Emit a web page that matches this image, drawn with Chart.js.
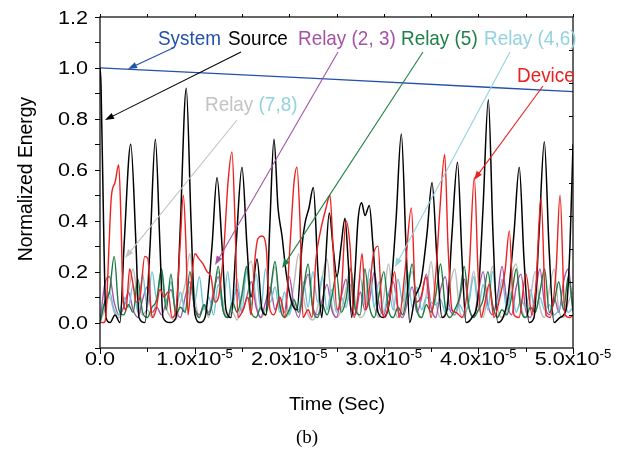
<!DOCTYPE html>
<html>
<head>
<meta charset="utf-8">
<script src="https://cdn.jsdelivr.net/npm/chart.js@4.4.1/dist/chart.umd.min.js"></script>
<style>
  html, body { margin: 0; padding: 0; background: #fff; }
  #wrap { width: 617px; height: 454px; }
</style>
</head>
<body>
<div id="wrap"><canvas id="chart" width="617" height="454"></canvas></div>
<script>
// time is kept in microseconds, axis is labelled in seconds (x10^-5)
const systemTime = [0, 24.3, 50];
const systemEnergy = [1.0, 0.956, 0.907];

const sourceTime = [0, 0.11, 0.42, 0.63, 1.06, 1.59, 2.11, 2.54, 3.25, 3.81, 4.12, 4.76, 5.29, 5.85, 6.34, 6.66,
  7.40, 8.03, 8.46, 9.12, 9.62, 10.04, 10.57, 11.10, 11.84, 12.37, 12.90, 13.32, 13.85, 14.38, 15.01, 15.54,
  15.96, 16.60, 17.12, 17.55, 17.97, 18.39, 18.82, 19.24, 19.66, 20.26, 20.82, 21.35, 21.67, 22.09, 22.55,
  23.04, 23.44, 23.78, 24.24, 24.63, 25.05, 25.48, 25.90, 26.22, 26.61, 26.96, 27.27, 27.66, 28.01, 28.47,
  28.86, 29.39, 29.92, 30.66, 31.29, 31.85, 32.35, 32.74, 33.30, 33.93, 34.57, 35.10, 35.62, 36.15, 36.68,
  37.21, 37.79, 38.27, 38.69, 39.32, 39.96, 40.49, 41.05, 41.54, 42.04, 42.60, 43.13, 43.76, 44.32, 44.82,
  45.35, 45.88, 46.41, 46.97, 47.46, 47.99, 48.63, 49.26, 49.68, 50.0];
const sourceEnergy = [1.0, 0.93, 0.3, 0.02, 0.0, 0.03, 0.0, 0.3, 0.70, 0.3, 0.02, 0.0, 0.3, 0.72, 0.3, 0.02,
  0.0, 0.02, 0.35, 0.92, 0.4, 0.03, 0.0, 0.02, 0.3, 0.57, 0.3, 0.05, 0.02, 0.3, 0.61, 0.3,
  0.1, 0.25, 0.05, 0.03, 0.4, 0.72, 0.45, 0.34, 0.2, 0.08, 0.05, 0.3, 0.39, 0.45, 0.53,
  0.2, 0.02, 0.2, 0.43, 0.3, 0.18, 0.3, 0.41, 0.25, 0.02, 0.2, 0.4, 0.47, 0.42, 0.46,
  0.3, 0.04, 0.02, 0.1, 0.4, 0.74, 0.3, 0.0, 0.1, 0.16, 0.35, 0.55, 0.25, 0.02, 0.05,
  0.35, 0.63, 0.25, 0.0, 0.02, 0.1, 0.45, 0.875, 0.35, 0.0, 0.02, 0.1, 0.35, 0.61, 0.25,
  0.0, 0.02, 0.35, 0.71, 0.3, 0.0, 0.02, 0.05, 0.3, 0.7];

const deviceTime = [0, 0.42, 0.63, 0.95, 1.19, 1.59, 1.98, 2.22, 2.43, 2.75, 3.14, 3.49, 3.81, 4.23, 4.73, 5.07,
  5.39, 5.60, 5.92, 6.34, 6.77, 7.19, 7.61, 8.03, 8.46, 8.81, 9.09, 9.30, 9.62, 10.04, 10.47, 10.89, 11.31,
  11.73, 12.16, 12.58, 13.11, 13.53, 13.95, 14.27, 14.59, 15.12, 15.64, 15.96, 16.38, 16.70, 17.12, 17.55,
  17.97, 18.39, 19.03, 19.56, 20.08, 20.51, 20.82, 21.14, 21.46, 21.99, 22.41, 22.83, 23.26, 23.89, 24.31,
  24.63, 25.05, 25.48, 26.00, 26.43, 26.85, 27.27, 27.70, 28.12, 28.54, 28.86, 29.39, 29.81, 30.13, 30.66,
  31.15, 31.61, 32.24, 32.91, 33.40, 33.93, 34.46, 34.99, 35.52, 35.94, 36.44, 36.79, 37.21, 37.63, 38.27,
  39.01, 39.57, 39.96, 40.28, 40.70, 41.12, 41.65, 42.28, 42.81, 43.27, 43.76, 44.29, 45.03, 45.67, 46.09,
  46.62, 47.15, 47.57, 48.20, 48.63, 49.15, 49.68, 50.0];
const deviceEnergy = [0, 0.0, 0.03, 0.3, 0.49, 0.55, 0.62, 0.4, 0.1, 0.05, 0.21, 0.15, 0.08, 0.1, 0.26, 0.25,
  0.05, 0.02, 0.05, 0.13, 0.1, 0.12, 0.02, 0.05, 0.3, 0.5, 0.3, 0.03, 0.15, 0.27, 0.25, 0.23, 0.2,
  0.18, 0.08, 0.11, 0.3, 0.55, 0.67, 0.4, 0.02, 0.05, 0.1, 0.03, 0.25, 0.33, 0.34, 0.3,
  0.05, 0.03, 0.1, 0.02, 0.3, 0.55, 0.61, 0.4, 0.02, 0.05, 0.02, 0.25, 0.35, 0.45, 0.5,
  0.3, 0.05, 0.1, 0.40, 0.3, 0.02, 0.1, 0.27, 0.05, 0.15, 0.26, 0.30, 0.05, 0.02, 0.1,
  0.2, 0.02, 0.2, 0.45, 0.08, 0.1, 0.18, 0.02, 0.2, 0.45, 0.66, 0.3, 0.05, 0.04, 0.02,
  0.2, 0.57, 0.2, 0.02, 0.08, 0.15, 0.02, 0.1, 0.2, 0.36, 0.03, 0.02, 0.19, 0.03, 0.15,
  0.49, 0.03, 0.02, 0.2, 0.5, 0.03, 0.02, 0.03];

const relayTime = [0, 0.5, 1, 1.5, 2, 2.5, 3, 3.5, 4, 4.5, 5, 5.5, 6, 6.5, 7, 7.5, 8, 8.5, 9, 9.5,
  10, 10.5, 11, 11.5, 12, 12.5, 13, 13.5, 14, 14.5, 15, 15.5, 16, 16.5, 17, 17.5, 18, 18.5, 19, 19.5,
  20, 20.5, 21, 21.5, 22, 22.5, 23, 23.5, 24, 24.5, 25, 25.5, 26, 26.5, 27, 27.5, 28, 28.5, 29, 29.5,
  30, 30.5, 31, 31.5, 32, 32.5, 33, 33.5, 34, 34.5, 35, 35.5, 36, 36.5, 37, 37.5, 38, 38.5, 39, 39.5,
  40, 40.5, 41, 41.5, 42, 42.5, 43, 43.5, 44, 44.5, 45, 45.5, 46, 46.5, 47, 47.5, 48, 48.5, 49, 49.5, 50];

const relay23 = [0.0, 0.15, 0.18, 0.08, 0.03, 0.06, 0.12, 0.05, 0.02, 0.09, 0.14, 0.04, 0.06, 0.03, 0.08, 0.13,
  0.05, 0.02, 0.1, 0.16, 0.06, 0.03, 0.07, 0.04, 0.12, 0.18, 0.05, 0.02, 0.08, 0.13, 0.04, 0.1, 0.16, 0.06,
  0.02, 0.08, 0.14, 0.05, 0.1, 0.04, 0.18, 0.07, 0.02, 0.12, 0.19, 0.06, 0.03, 0.09, 0.15, 0.05, 0.02, 0.1,
  0.17, 0.06, 0.03, 0.12, 0.05, 0.09, 0.2, 0.07, 0.03, 0.11, 0.16, 0.05, 0.02, 0.08, 0.14, 0.04, 0.1, 0.19,
  0.06, 0.02, 0.13, 0.18, 0.05, 0.03, 0.09, 0.17, 0.06, 0.02, 0.12, 0.2, 0.07, 0.03, 0.1, 0.22, 0.08, 0.03,
  0.14, 0.19, 0.05, 0.02, 0.11, 0.21, 0.07, 0.03, 0.1, 0.04, 0.16, 0.21, 0.04];
const relay5 = [0.0, 0.08, 0.12, 0.26, 0.05, 0.03, 0.07, 0.04, 0.17, 0.04, 0.02, 0.06, 0.09, 0.21, 0.05, 0.19,
  0.03, 0.06, 0.04, 0.2, 0.06, 0.02, 0.07, 0.03, 0.1, 0.22, 0.05, 0.02, 0.08, 0.04, 0.11, 0.22, 0.04, 0.02,
  0.06, 0.03, 0.12, 0.24, 0.07, 0.02, 0.05, 0.09, 0.04, 0.13, 0.23, 0.05, 0.02, 0.07, 0.03, 0.1, 0.19, 0.04,
  0.09, 0.21, 0.05, 0.03, 0.21, 0.06, 0.02, 0.11, 0.2, 0.05, 0.02, 0.06, 0.03, 0.12, 0.23, 0.05, 0.02, 0.07,
  0.04, 0.11, 0.23, 0.06, 0.02, 0.05, 0.1, 0.22, 0.06, 0.02, 0.05, 0.09, 0.2, 0.07, 0.02, 0.05, 0.03, 0.1,
  0.21, 0.05, 0.02, 0.06, 0.04, 0.12, 0.21, 0.04, 0.08, 0.16, 0.05, 0.18, 0.05];
const relay46 = [0.0, 0.08, 0.12, 0.05, 0.03, 0.1, 0.06, 0.15, 0.04, 0.19, 0.06, 0.2, 0.09, 0.21, 0.07, 0.16,
  0.05, 0.12, 0.04, 0.14, 0.08, 0.18, 0.05, 0.1, 0.03, 0.15, 0.06, 0.2, 0.05, 0.17, 0.04, 0.22, 0.07, 0.19,
  0.05, 0.21, 0.08, 0.14, 0.04, 0.12, 0.03, 0.09, 0.05, 0.16, 0.06, 0.2, 0.08, 0.18, 0.05, 0.13, 0.04, 0.1,
  0.06, 0.15, 0.05, 0.18, 0.07, 0.21, 0.06, 0.16, 0.04, 0.12, 0.05, 0.17, 0.08, 0.2, 0.06, 0.14, 0.05, 0.1,
  0.08, 0.07, 0.09, 0.04, 0.06, 0.03, 0.07, 0.04, 0.08, 0.18, 0.06, 0.15, 0.05, 0.2, 0.07, 0.17, 0.05, 0.12,
  0.04, 0.09, 0.06, 0.13, 0.04, 0.1, 0.05, 0.07, 0.03, 0.05, 0.08, 0.04, 0.06];
const relay78 = [0.0, 0.05, 0.1, 0.04, 0.02, 0.06, 0.12, 0.21, 0.08, 0.03, 0.05, 0.02, 0.1, 0.19, 0.06, 0.02,
  0.01, 0.08, 0.15, 0.27, 0.1, 0.03, 0.06, 0.02, 0.12, 0.2, 0.07, 0.02, 0.04, 0.01, 0.09, 0.2, 0.24, 0.08,
  0.02, 0.05, 0.12, 0.22, 0.06, 0.02, 0.04, 0.15, 0.27, 0.1, 0.03, 0.01, 0.06, 0.18, 0.25, 0.07, 0.02, 0.05,
  0.13, 0.22, 0.08, 0.02, 0.04, 0.17, 0.06, 0.02, 0.1, 0.23, 0.08, 0.02, 0.05, 0.14, 0.2, 0.06, 0.02, 0.11,
  0.24, 0.08, 0.02, 0.04, 0.15, 0.21, 0.05, 0.02, 0.09, 0.2, 0.07, 0.02, 0.12, 0.22, 0.06, 0.02, 0.04, 0.18,
  0.23, 0.07, 0.02, 0.1, 0.2, 0.06, 0.02, 0.13, 0.21, 0.05, 0.02, 0.08, 0.12];

const xMajorTicks = [0, 10, 20, 30, 40, 50];
const xMinorTicks = [5, 15, 25, 35, 45];
const yTickValues = [-0.1, 0, 0.1, 0.2, 0.3, 0.4, 0.5, 0.6, 0.7, 0.8, 0.9, 1.0, 1.1, 1.2];
const yTickLabels = ["0.0", "0.2", "0.4", "0.6", "0.8", "1.0", "1.2"];

const FONT = '"Liberation Sans", Arial, sans-serif';

function pairs(ts, vs) {
  return ts.map((t, i) => ({ x: t, y: vs[i] }));
}

// text squeezed or stretched sideways, to match the original's lettering
function drawText(ctx, text, x, y, size, sx, align, color, family) {
  ctx.save();
  ctx.font = size + "px " + (family || FONT);
  ctx.fillStyle = color;
  ctx.textBaseline = "alphabetic";
  ctx.textAlign = "left";
  const w = ctx.measureText(text).width * sx;
  let left = x;
  if (align === "center") left = x - w / 2;
  else if (align === "right") left = x - w;
  ctx.translate(left, y);
  ctx.scale(sx, 1);
  ctx.fillText(text, 0, 0);
  ctx.restore();
  return w;
}

function textWidth(ctx, text, size, sx) {
  ctx.save();
  ctx.font = size + "px " + FONT;
  const w = ctx.measureText(text).width * sx;
  ctx.restore();
  return w;
}

function arrow(ctx, x1, y1, x2, y2, color) {
  const ang = Math.atan2(y2 - y1, x2 - x1);
  const len = 9, half = 3.2;
  ctx.save();
  ctx.strokeStyle = color;
  ctx.fillStyle = color;
  ctx.lineWidth = 1.1;
  ctx.beginPath();
  ctx.moveTo(x1, y1);
  ctx.lineTo(x2 - Math.cos(ang) * (len - 2), y2 - Math.sin(ang) * (len - 2));
  ctx.stroke();
  ctx.beginPath();
  ctx.moveTo(x2, y2);
  ctx.lineTo(x2 - Math.cos(ang) * len - Math.sin(ang) * half, y2 - Math.sin(ang) * len + Math.cos(ang) * half);
  ctx.lineTo(x2 - Math.cos(ang) * len + Math.sin(ang) * half, y2 - Math.sin(ang) * len - Math.cos(ang) * half);
  ctx.closePath();
  ctx.fill();
  ctx.restore();
}

const axesPlugin = {
  id: "axesPlugin",
  afterDraw(chart) {
    const ctx = chart.ctx;
    const area = chart.chartArea;
    const xs = chart.scales.x, ys = chart.scales.y;

    ctx.save();
    ctx.strokeStyle = "#000";
    ctx.lineWidth = 1.2;
    ctx.strokeRect(area.left, area.top, area.right - area.left, area.bottom - area.top);

    ctx.lineWidth = 1;
    ctx.beginPath();
    // left ticks, outward
    yTickValues.forEach(v => {
      const py = Math.round(ys.getPixelForValue(v)) + 0.5;
      ctx.moveTo(area.left - 5, py);
      ctx.lineTo(area.left, py);
    });
    // bottom and top ticks
    xMajorTicks.forEach(v => {
      const px = Math.round(xs.getPixelForValue(v)) + 0.5;
      ctx.moveTo(px, area.bottom);
      ctx.lineTo(px, area.bottom + 6);
      ctx.moveTo(px, area.top);
      ctx.lineTo(px, area.top - 3);
    });
    xMinorTicks.forEach(v => {
      const px = Math.round(xs.getPixelForValue(v)) + 0.5;
      ctx.moveTo(px, area.bottom);
      ctx.lineTo(px, area.bottom + 4);
      ctx.moveTo(px, area.top);
      ctx.lineTo(px, area.top - 3);
    });
    // right side ticks, inward, ten divisions
    for (let k = 1; k < 10; k++) {
      const py = Math.round(area.bottom - k * (area.bottom - area.top) / 10) + 0.5;
      ctx.moveTo(area.right, py);
      ctx.lineTo(area.right - 4, py);
    }
    ctx.stroke();
    ctx.restore();

    // y tick labels
    yTickLabels.forEach(lbl => {
      const py = ys.getPixelForValue(parseFloat(lbl));
      drawText(ctx, lbl, 88, py + 6.5, 18, 1.2, "right", "#000");
    });

    // x tick labels with exponent
    xMajorTicks.forEach(v => {
      const px = xs.getPixelForValue(v);
      if (v === 0) {
        drawText(ctx, "0.0", px, 365, 18, 1.2, "center", "#000");
        return;
      }
      const base = (v / 10).toFixed(1) + "x10";
      const wb = textWidth(ctx, base, 18, 1.2);
      const we = textWidth(ctx, "-5", 12, 1.1);
      const left = px - (wb + we) / 2;
      drawText(ctx, base, left, 365, 18, 1.2, "left", "#000");
      drawText(ctx, "-5", left + wb, 358, 12, 1.1, "left", "#000");
    });

    // axis titles
    drawText(ctx, "Time (Sec)", 337, 410, 18, 1.1, "center", "#000");
    drawText(ctx, "(b)", 307, 443, 19, 1.0, "center", "#000", '"Liberation Serif", "Times New Roman", serif');
    ctx.save();
    ctx.translate(32, 179);
    ctx.rotate(-Math.PI / 2);
    drawText(ctx, "Normalized Energy", 0, 0, 21, 0.92, "center", "#000");
    ctx.restore();

    // annotations
    drawText(ctx, "System", 158, 45, 21, 0.9, "left", "#2350aa");
    drawText(ctx, "Source", 228, 45, 21, 0.9, "left", "#000");
    drawText(ctx, "Relay (2, 3)", 298, 45, 21, 0.9, "left", "#a552a5");
    drawText(ctx, "Relay (5)", 401, 45, 21, 0.9, "left", "#1e8246");
    drawText(ctx, "Relay (4,6)", 484, 45, 21, 0.9, "left", "#92d2e0");
    drawText(ctx, "Device", 517, 82, 21, 0.9, "left", "#eb2020");
    const wr = drawText(ctx, "Relay ", 205, 111, 21, 0.9, "left", "#c3c3c3");
    drawText(ctx, "(7,8)", 205 + wr, 111, 21, 0.9, "left", "#92d2e0");

    arrow(ctx, 173, 48, 128, 69, "#2350aa");
    arrow(ctx, 241, 52, 105, 120, "#000");
    arrow(ctx, 338, 52, 215, 265, "#a552a5");
    arrow(ctx, 423, 52, 282, 268, "#1e8246");
    arrow(ctx, 510, 52, 395, 267, "#92d2e0");
    arrow(ctx, 543, 86, 474, 180, "#eb2020");
    arrow(ctx, 237, 120, 125, 258, "#c3c3c3");
  }
};

function series(data, color, width, order) {
  return {
    data: data,
    borderColor: color,
    borderWidth: width,
    pointRadius: 0,
    fill: false,
    cubicInterpolationMode: "monotone",
    order: order
  };
}

new Chart(document.getElementById("chart"), {
  type: "line",
  data: {
    datasets: [
      series(pairs(deviceTime, deviceEnergy), "#ee2020", 1.4, 0),
      series(pairs(sourceTime, sourceEnergy), "#000000", 1.5, 1),
      series(pairs(relayTime, relay5), "#1a7a40", 1.4, 2),
      series(pairs(relayTime, relay46), "#6ec3d6", 1.4, 3),
      series(pairs(relayTime, relay23), "#a855a8", 1.4, 4),
      series(pairs(relayTime, relay78), "#bdbdbd", 1.5, 5),
      series(pairs(systemTime, systemEnergy), "#2350aa", 1.4, 6)
    ]
  },
  options: {
    responsive: false,
    animation: false,
    events: [],
    layout: { padding: { left: 100, right: 44, top: 17, bottom: 106 } },
    plugins: { legend: { display: false }, tooltip: { enabled: false } },
    scales: {
      x: { type: "linear", min: 0, max: 50, display: false },
      y: { min: -0.1, max: 1.2, display: false }
    }
  },
  plugins: [axesPlugin]
});
</script>
</body>
</html>
